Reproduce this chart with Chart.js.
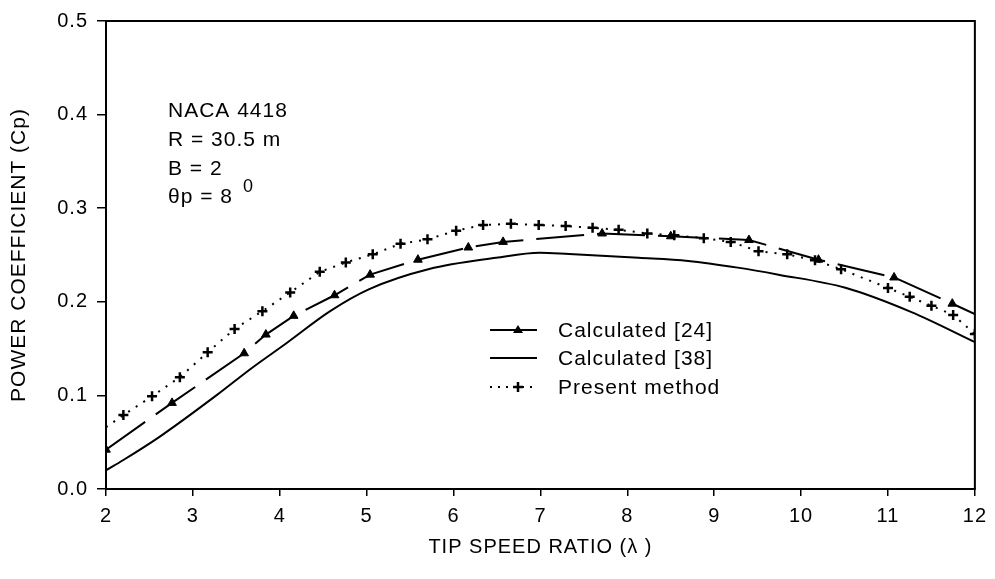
<!DOCTYPE html>
<html>
<head>
<meta charset="utf-8">
<script src="https://cdn.jsdelivr.net/npm/chart.js@4/dist/chart.umd.min.js"></script>
<style>
  html, body { margin: 0; padding: 0; background: #fff; }
  #wrap { width: 995px; height: 579px; }
</style>
</head>
<body>
<div id="wrap"><canvas id="cpChart" width="995" height="579"></canvas></div>
<script>
// tip speed ratio / power coefficient
const tsr24 = [2.0, 2.76, 3.59, 3.84, 4.16, 4.63, 5.04, 5.59, 6.17, 6.57, 7.71, 8.50, 9.40, 10.2, 11.07, 11.74, 12.0];
const cp24  = [0.042, 0.092, 0.145, 0.165, 0.185, 0.207, 0.229, 0.245, 0.258, 0.264, 0.273, 0.270, 0.266, 0.245, 0.226, 0.198, 0.187];

const tsr38 = [2.0, 2.2, 2.62, 3.27, 3.66, 4.08, 4.58, 5.03, 5.72, 6.49, 6.99, 7.33, 8.13, 8.7, 9.27, 9.74, 10.51, 11.27, 12.0];
const cp38  = [0.020, 0.031, 0.056, 0.100, 0.128, 0.156, 0.190, 0.2135, 0.235, 0.247, 0.2525, 0.251, 0.247, 0.2436, 0.2365, 0.229, 0.215, 0.189, 0.157];

const tsrPres = [2.0, 2.2, 2.53, 2.85, 3.17, 3.48, 3.80, 4.12, 4.46, 4.76, 5.07, 5.39, 5.70, 6.03, 6.34, 6.66, 6.98, 7.29, 7.6, 7.9, 8.23, 8.54, 8.88, 9.19, 9.51, 9.84, 10.16, 10.46, 11.0, 11.25, 11.5, 11.75, 12.0];
const cpPres  = [0.066, 0.079, 0.099, 0.1195, 0.146, 0.171, 0.190, 0.210, 0.232, 0.242, 0.2507, 0.262, 0.2667, 0.276, 0.282, 0.2833, 0.282, 0.281, 0.279, 0.277, 0.273, 0.271, 0.268, 0.264, 0.254, 0.2507, 0.2443, 0.2348, 0.2148, 0.2053, 0.1957, 0.186, 0.1656];

const xTicks = [2, 3, 4, 5, 6, 7, 8, 9, 10, 11, 12];
const yTicks = [0.0, 0.1, 0.2, 0.3, 0.4, 0.5];

const legendNames = ['Calculated [24]', 'Calculated [38]', 'Present method'];
const notes = ['NACA 4418', 'R = 30.5 m', 'B = 2'];

const FONT = 'Arial, "Liberation Sans", sans-serif';

function pares(xs, ys) {
    return xs.map((x, i) => ({ x: x, y: ys[i] }));
}

// crosses for present method, without the line's starting point
const radioPres = tsrPres.map((x, i) => i === 0 ? 0 : 5);
const radio24 = tsr24.map((x, i) => i === tsr24.length - 1 ? 0 : 5);

// scanned lettering is a bit wide
const espaciado = {
    id: 'espaciado',
    beforeUpdate(chart) { chart.ctx.letterSpacing = '1px'; },
    beforeDraw(chart) { chart.ctx.letterSpacing = '1px'; }
};

// box around the plot + legend and notes
const marcoYTextos = {
    id: 'marcoYTextos',
    afterDraw(chart) {
        const ctx = chart.ctx;
        const a = chart.chartArea;
        ctx.save();
        ctx.strokeStyle = '#000';
        ctx.lineWidth = 2;
        ctx.setLineDash([]);
        ctx.strokeRect(a.left, a.top, a.right - a.left, a.bottom - a.top);

        // notes
        ctx.fillStyle = '#000';
        ctx.font = '21px ' + FONT;
        ctx.textBaseline = 'alphabetic';
        ctx.textAlign = 'left';
        notes.forEach((t, i) => ctx.fillText(t, 168, 117 + i * 29));
        ctx.fillText('\u03B8p = 8', 168, 203);
        ctx.font = '18px ' + FONT;
        ctx.fillText('0', 243, 192);

        // legend
        const filas = [330, 358, 387];
        const x0 = 490, x1 = 537;
        ctx.font = '21px ' + FONT;
        ctx.textBaseline = 'middle';
        chart.data.datasets.forEach((ds, i) => {
            const y = filas[i];
            ctx.strokeStyle = '#000';
            ctx.lineWidth = 2;
            ctx.setLineDash(i === 2 ? [2, 6] : []);
            ctx.beginPath();
            ctx.moveTo(x0, y);
            ctx.lineTo(x1, y);
            ctx.stroke();
            ctx.setLineDash([]);
            const cx = 518;
            if (i === 0) {
                ctx.beginPath();
                ctx.moveTo(cx, y - 5);
                ctx.lineTo(cx + 5, y + 3);
                ctx.lineTo(cx - 5, y + 3);
                ctx.closePath();
                ctx.fill();
            } else if (i === 2) {
                ctx.lineWidth = 2.5;
                ctx.beginPath();
                ctx.moveTo(cx - 5, y); ctx.lineTo(cx + 5, y);
                ctx.moveTo(cx, y - 5); ctx.lineTo(cx, y + 5);
                ctx.stroke();
            }
            ctx.fillText(legendNames[i], 558, y + 1);
        });
        ctx.restore();
    }
};

function crearGrafico() {
    const config = {
        type: 'scatter',
        data: {
            datasets: [{
                label: legendNames[0],
                data: pares(tsr24, cp24),
                showLine: true,
                borderColor: '#000',
                backgroundColor: '#000',
                borderWidth: 2,
                borderDash: [48, 13],
                pointStyle: 'triangle',
                pointRadius: radio24,
                pointBorderWidth: 1,
                tension: 0
            }, {
                label: legendNames[1],
                data: pares(tsr38, cp38),
                showLine: true,
                borderColor: '#000',
                borderWidth: 2,
                pointRadius: 0,
                cubicInterpolationMode: 'monotone'
            }, {
                label: legendNames[2],
                data: pares(tsrPres, cpPres),
                showLine: true,
                borderColor: '#000',
                backgroundColor: '#000',
                borderWidth: 2,
                borderDash: [2, 7],
                pointStyle: 'cross',
                pointRadius: radioPres,
                pointBorderWidth: 2.5,
                tension: 0
            }]
        },
        options: {
            responsive: false,
            animation: false,
            layout: { padding: { top: 19, right: 18, left: 0, bottom: 0 } },
            plugins: {
                legend: { display: false },
                tooltip: { enabled: false }
            },
            scales: {
                x: {
                    type: 'linear',
                    min: 2,
                    max: 12,
                    afterBuildTicks: s => { s.ticks = xTicks.map(v => ({ value: v })); },
                    afterFit: s => { s.height = 90; },
                    border: { color: '#000', width: 2 },
                    grid: { drawOnChartArea: false, color: '#000', lineWidth: 1.5, tickLength: 7 },
                    ticks: {
                        color: '#000',
                        font: { family: FONT, size: 20 },
                        padding: 8,
                        callback: v => String(v)
                    },
                    title: {
                        display: true,
                        text: 'TIP SPEED RATIO (\u03BB )',
                        color: '#000',
                        font: { family: FONT, size: 20 },
                        padding: { bottom: 20 }
                    }
                },
                y: {
                    min: 0,
                    max: 0.5,
                    afterBuildTicks: s => { s.ticks = yTicks.map(v => ({ value: v })); },
                    afterFit: s => { s.width = 106; },
                    border: { color: '#000', width: 2 },
                    grid: { drawOnChartArea: false, color: '#000', lineWidth: 1.5, tickLength: 9 },
                    ticks: {
                        color: '#000',
                        font: { family: FONT, size: 20 },
                        padding: 9,
                        callback: v => v.toFixed(1)
                    },
                    title: {
                        display: true,
                        text: 'POWER COEFFICIENT (Cp)',
                        color: '#000',
                        font: { family: FONT, size: 21 },
                        padding: { top: 7 }
                    }
                }
            }
        },
        plugins: [espaciado, marcoYTextos]
    };

    const ctx = document.getElementById('cpChart').getContext('2d');
    new Chart(ctx, config);
}

document.addEventListener('DOMContentLoaded', crearGrafico);
</script>
</body>
</html>
